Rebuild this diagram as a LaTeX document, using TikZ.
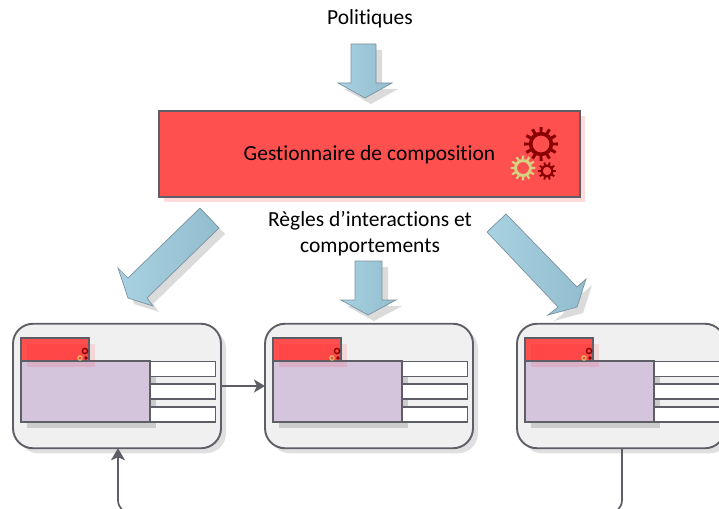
\documentclass[tikz,border=0pt]{standalone}
\usepackage{fontspec}
\setmainfont[Ligatures={NoCommon}]{Carlito}
\usetikzlibrary{arrows.meta,shadings}
\definecolor{linegray}{HTML}{5E5E66}
\definecolor{bigred}{HTML}{FF5050}
\definecolor{cardfill}{HTML}{F0F0F0}
\definecolor{gearred}{HTML}{8A0000}
\definecolor{gearyellow}{HTML}{D6D080}
\definecolor{arrowA}{HTML}{A8D2E2}
\definecolor{arrowB}{HTML}{92BDCE}
\definecolor{purpleA}{HTML}{D5C5DC}
\tikzset{
  x=1pt,y=-1pt,
  cardbox/.style={draw=linegray,line width=1.9pt,fill=cardfill,rounded corners=20pt,minimum width=208pt,minimum height=124.5pt,inner sep=0pt,outer sep=0pt},
  cardshadow/.style={fill=black,fill opacity=.12,rounded corners=20pt,minimum width=208pt,minimum height=124.5pt,inner sep=0pt,outer sep=0pt},
  redhead/.style={draw=linegray,line width=1.7pt,fill=bigred,minimum width=68pt,minimum height=23pt,inner sep=0pt,outer sep=0pt},
  pinkshadow/.style={fill=red,fill opacity=.10,minimum width=68pt,minimum height=23pt,inner sep=0pt,outer sep=0pt},
  purplebox/.style={draw=linegray,line width=1.8pt,fill=purpleA,minimum width=129pt,minimum height=61pt,inner sep=0pt,outer sep=0pt},
  purpleshadow/.style={fill=black,fill opacity=.15,minimum width=129pt,minimum height=61pt,inner sep=0pt,outer sep=0pt},
  slotbox/.style={draw=linegray,line width=1.8pt,fill=white,minimum width=65pt,minimum height=15pt,inner sep=0pt,outer sep=0pt},
  link/.style={draw=linegray,line width=1.7pt,rounded corners=14pt},
  blockarrow/.style={draw=linegray!45!arrowB,line width=.7pt,left color=arrowA,right color=arrowB},
  blockshadow/.style={fill=black,fill opacity=.14,draw=none},
  label/.style={inner sep=0pt,font=\fontsize{21.5}{25}\selectfont,text=black},
}
% gear: cx, cy, outer radius, hole radius, colour, teeth
\newcommand{\gearshape}[6]{%
  \pgfmathsetmacro{\rroot}{#3*0.72}%
  \pgfmathsetmacro{\stepang}{360/#6}%
  \fill[#5,even odd rule]
    (#1,#2) circle[radius=#4]
    (#1,#2) circle[radius=\rroot];
  \foreach \gi in {1,...,#6}{
    \pgfmathsetmacro{\ga}{\gi*\stepang}
    \fill[#5] ([shift={(\ga-\stepang*.24:\rroot-.5)}]#1,#2) --
              ([shift={(\ga-\stepang*.17:#3)}]#1,#2) --
              ([shift={(\ga+\stepang*.17:#3)}]#1,#2) --
              ([shift={(\ga+\stepang*.24:\rroot-.5)}]#1,#2) -- cycle;
  }
}
% card: prefix, x offset
\newcommand{\card}[2]{%
  \node[cardshadow] at (#2+117+5,386+5) {};
  \node[cardbox] (#1) at (#2+117,386) {};
  \node[purpleshadow] at (#2+85.5+6,391.5+6) {};
  \node[redhead] (#1r) at (#2+55,349.5) {};
  \node[slotbox] (#1a) at (#2+183,369) {};
  \node[slotbox] (#1b) at (#2+183,391.5) {};
  \node[slotbox] (#1c) at (#2+183,414.5) {};
  \node[purplebox] (#1p) at (#2+85.5,391.5) {};
  \node[pinkshadow] at (#2+55+6,349.5+6) {};
  \draw[draw=linegray,line width=1.7pt] (#1r.north west) rectangle (#1r.south east);
  \draw[draw=linegray,line width=1.8pt] (#1p.north west) -- (#1p.north east);
  \draw[draw=gearred,line width=1.4pt] (#2+85,351) circle[radius=2.6];
  \draw[draw=gearyellow!80!orange,line width=1.1pt] (#2+80,358) circle[radius=2.2];
  \fill[gearred] (#2+86,358) circle[radius=1.8];
}
\begin{document}
\begin{tikzpicture}
\useasboundingbox (0,0) rectangle (719,508);
\clip (0,0) rectangle (719,508);
% main manager
\fill[red,fill opacity=.14] (164,116) rectangle (585,202);
\node[draw=linegray,line width=1.9pt,fill=bigred,minimum width=421pt,minimum height=86pt,inner sep=0pt,outer sep=0pt] (gest) at (369.5,154) {};
\node[label] (gestlabel) at (369.5,155) {Gestionnaire de composition};
\gearshape{541}{144}{17}{8.5}{gearred}{12}
\gearshape{523}{168}{12.5}{6}{gearyellow}{12}
\gearshape{547}{171}{9}{4.3}{gearred}{10}
% texts
\node[label] (pol) at (370,19) {Politiques};
\node[label] (regl1) at (370,221) {Règles d’interactions et};
\node[label] (regl2) at (370,247) {comportements};
% block arrows
\fill[blockshadow] (357,50) -- (382,50) -- (382,89) -- (398,89) -- (371,104) -- (344,89) -- (357,89) -- cycle;
\draw[blockarrow] (351,44) -- (376,44) -- (376,83) -- (392,83) -- (365,98) -- (338,83) -- (351,83) -- cycle;
\fill[blockshadow] (361,267) -- (388,267) -- (388,306) -- (402,306) -- (374,321) -- (347,306) -- (361,306) -- cycle;
\draw[blockarrow] (355,261) -- (382,261) -- (382,300) -- (396,300) -- (368,315) -- (341,300) -- (355,300) -- cycle;
\fill[blockshadow] (206,214) -- (225,234) -- (153,304) -- (159,312) -- (134,304) -- (124,274) -- (134,284) -- cycle;
\draw[blockarrow] (200,208) -- (219,228) -- (147,298) -- (153,306) -- (128,298) -- (118,268) -- (128,278) -- cycle;
\fill[blockshadow] (512,220) -- (493,238) -- (564,313) -- (554,321) -- (583,313) -- (592,285) -- (583,293) -- cycle;
\draw[blockarrow] (506,214) -- (487,232) -- (558,307) -- (548,315) -- (577,307) -- (586,279) -- (577,287) -- cycle;
% cards
\card{ca}{0}
\card{cb}{252}
\card{cc}{504}
% connectors
\coordinate (retA) at (622,514);
\coordinate (retB) at (118,514);
\draw[link,-{Stealth[length=11pt,width=13pt,inset=3pt]}] (ca.east) -- (cb.west);
\draw[link,-{Stealth[length=12pt,width=14pt,inset=3pt]}] (cc.south -| retA) -- (retA) -- (retB) -- (ca.south -| retB);
\end{tikzpicture}
\end{document}
